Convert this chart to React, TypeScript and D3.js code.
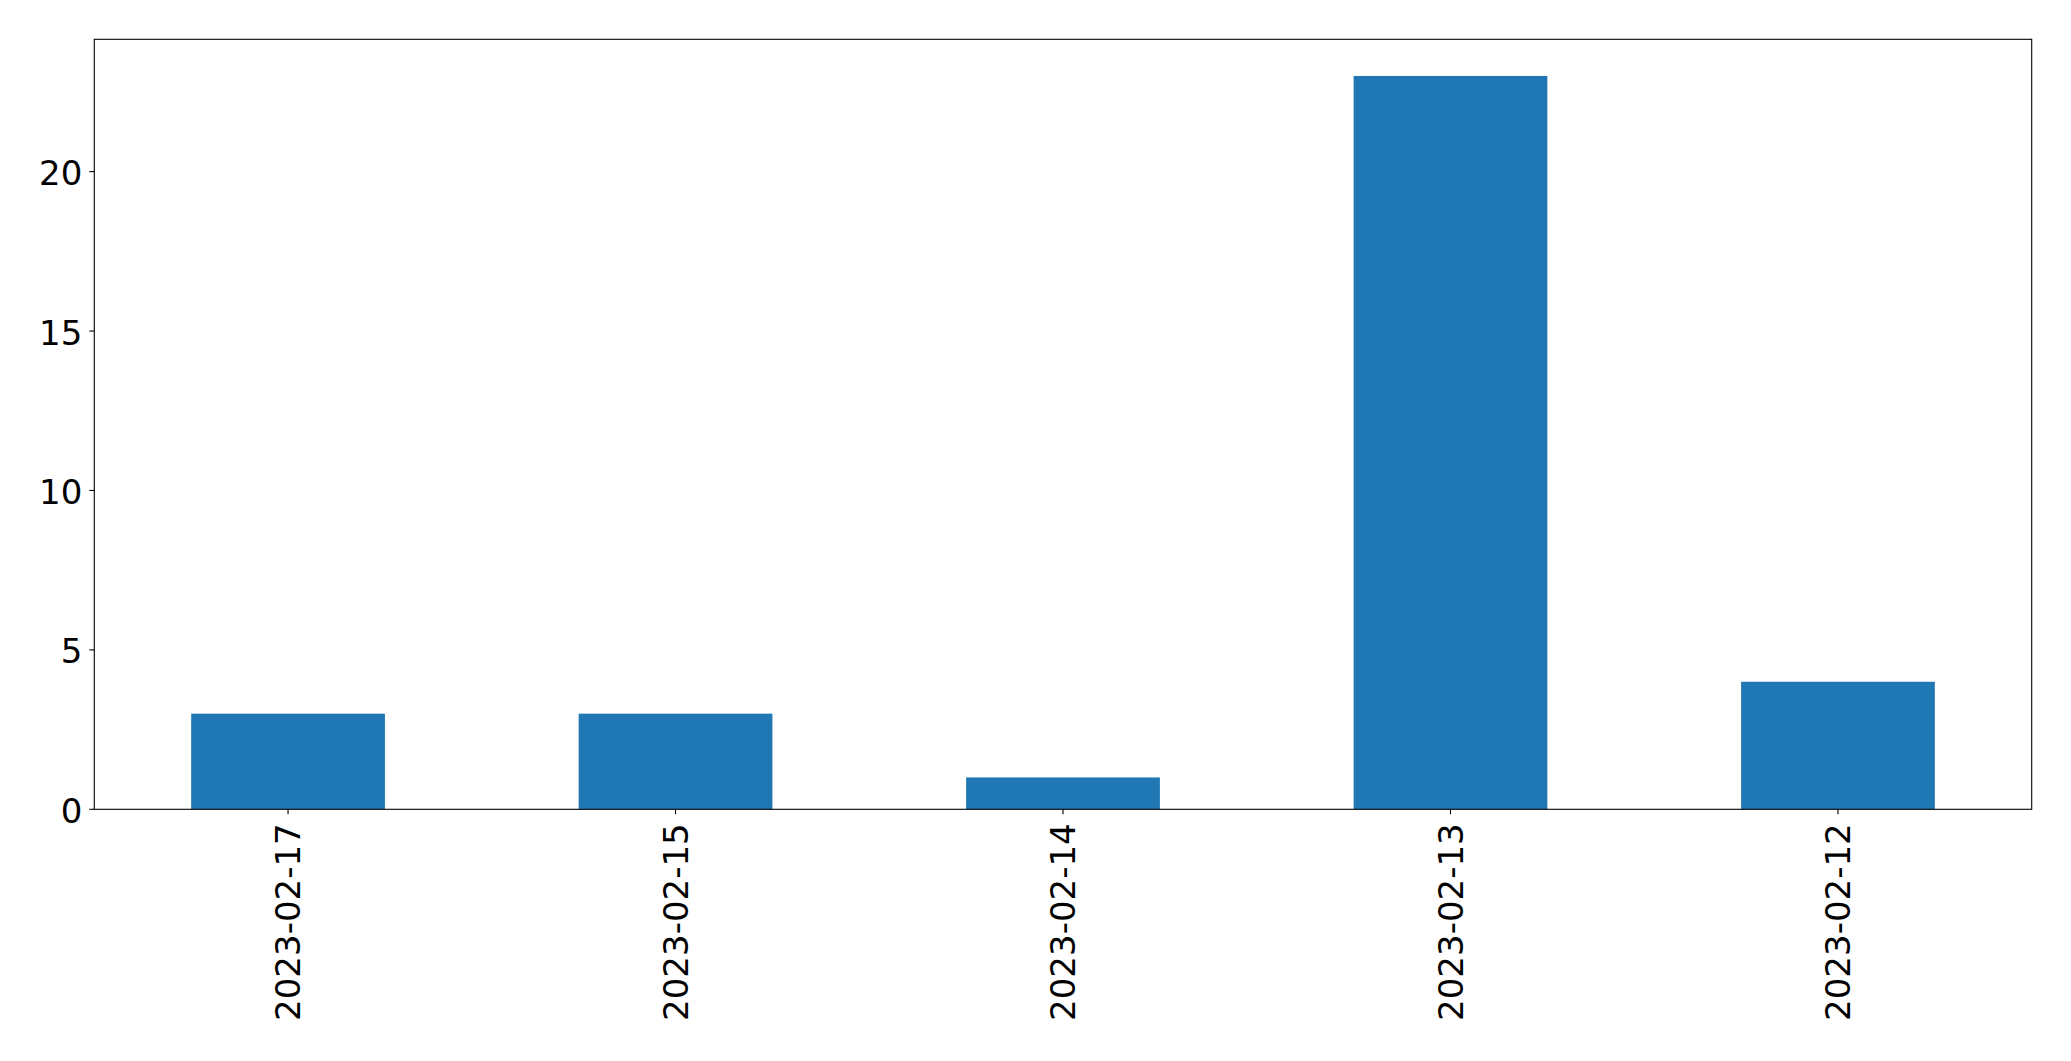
import React from "react";
import * as d3 from "d3";

const categories: string[] = ["2023-02-17", "2023-02-15", "2023-02-14", "2023-02-13", "2023-02-12"];
const values: number[] = [3, 3, 1, 23, 4];
const yTicks: number[] = [0, 5, 10, 15, 20];

const W = 2071;
const H = 1061;
const left = 94.3;
const right = 2031.7;
const top = 39.3;
const bottom = 809.3;
const FONT = "'DejaVu Sans', sans-serif";
const FS = 34;
const BAR = "#1f77b4";

export default function App() {
  const x = d3
    .scaleLinear()
    .domain([-0.5, categories.length - 0.5])
    .range([left, right]);
  const yMax = d3.max(values)! * 1.05;
  const y = d3.scaleLinear().domain([0, yMax]).range([bottom, top]);
  const bw = x(0.25) - x(-0.25);

  return (
    <svg
      width={W}
      height={H}
      style={{ position: "absolute", left: 0, top: 0, background: "#fff" }}
    >
      <rect x={0} y={0} width={W} height={H} fill="#fff" />
      {values.map((v, i) => (
        <rect
          key={i}
          x={x(i) - bw / 2}
          y={y(v)}
          width={bw}
          height={y(0) - y(v)}
          fill={BAR}
        />
      ))}
      <rect
        x={left}
        y={top}
        width={right - left}
        height={bottom - top}
        fill="none"
        stroke="#000"
        strokeWidth={1.1}
      />
      {yTicks.map((t) => (
        <g key={t}>
          <line x1={left - 5} x2={left} y1={y(t)} y2={y(t)} stroke="#000" strokeWidth={1.1} />
          <text
            x={left - 12}
            y={y(t)}
            dy={13.5}
            textAnchor="end"
            fontFamily={FONT}
            fontSize={FS}
            fill="#000"
          >
            {t}
          </text>
        </g>
      ))}
      {categories.map((c, i) => (
        <g key={c}>
          <line x1={x(i)} x2={x(i)} y1={bottom} y2={bottom + 5} stroke="#000" strokeWidth={1.1} />
          <text
            transform={`translate(${x(i)},${bottom + 14}) rotate(-90)`}
            dy={12.4}
            textAnchor="end"
            fontFamily={FONT}
            fontSize={FS}
            fill="#000"
          >
            {c}
          </text>
        </g>
      ))}
    </svg>
  );
}
